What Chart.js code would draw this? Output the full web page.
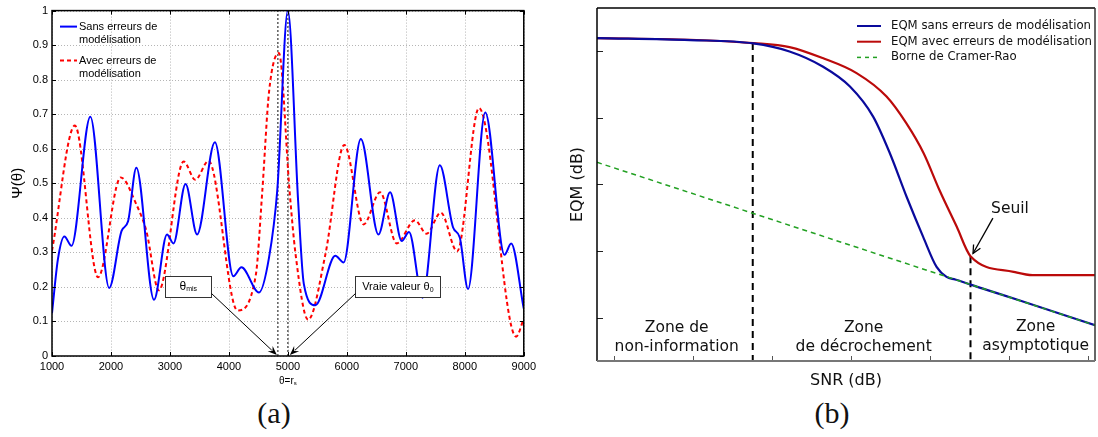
<!DOCTYPE html>
<html>
<head>
<meta charset="utf-8">
<script src="https://cdn.jsdelivr.net/npm/chart.js@4.4.0/dist/chart.umd.min.js"></script>
<style>
  html, body { margin: 0; padding: 0; background: #fff; }
  #fig { position: relative; width: 1098px; height: 437px; overflow: hidden; }
  .panel { position: absolute; top: 0; height: 395px; }
  #pa { left: 0; width: 540px; }
  #pb { left: 560px; width: 538px; }
  .cap { position: absolute; top: 397px; width: 80px; text-align: center; line-height: 32px;
         font-family: "Liberation Serif", "DejaVu Serif", serif; font-size: 30px; color: #111; }
</style>
</head>
<body>
<div id="fig">
  <div class="panel" id="pa"><canvas id="chartA"></canvas></div>
  <div class="panel" id="pb"><canvas id="chartB"></canvas></div>
  <div class="cap" style="left:234px">(a)</div>
  <div class="cap" style="left:792px">(b)</div>
</div>
<script>
// --- (a) Pseudo-spectre Ψ(θ) ---
const thetaTicks = [1000, 2000, 3000, 4000, 5000, 6000, 7000, 8000, 9000];
const psiTicks = [0, 0.1, 0.2, 0.3, 0.4, 0.5, 0.6, 0.7, 0.8, 0.9, 1];

// Sans erreurs de modélisation (bleu)
const blueTheta = [1000, 1100, 1210, 1330, 1650, 1970, 2180, 2290, 2430, 2730, 2950, 3060, 3265, 3460, 3762,
  4075, 4212, 4510, 4680, 4820, 5000, 5174, 5270, 5467, 5805, 5945, 6237, 6536, 6733, 6930, 7054, 7284,
  7577, 7802, 7915, 8055, 8347, 8674, 8786, 9000];
const blueVal = [0.124, 0.28, 0.346, 0.319, 0.693, 0.197, 0.362, 0.39, 0.545, 0.163, 0.352, 0.326, 0.498, 0.352, 0.619,
  0.231, 0.257, 0.184, 0.285, 0.48, 1.0, 0.448, 0.209, 0.147, 0.29, 0.271, 0.628, 0.352, 0.474, 0.333, 0.359, 0.169,
  0.552, 0.372, 0.343, 0.194, 0.705, 0.293, 0.326, 0.137];

// Avec erreurs de modélisation (rouge, pointillé)
const redTheta = [1000, 1388, 1781, 2165, 2430, 2600, 2812, 3233, 3430, 3655, 4145, 4455, 4566, 4680, 4848,
  5029, 5130, 5343, 5637, 5957, 6283, 6564, 6845, 7155, 7351, 7594, 7870, 8241, 8870, 9000];
const redVal = [0.305, 0.667, 0.228, 0.517, 0.439, 0.362, 0.19, 0.563, 0.51, 0.565, 0.132, 0.233, 0.477, 0.764, 0.877,
  0.477, 0.295, 0.105, 0.295, 0.611, 0.381, 0.474, 0.326, 0.393, 0.354, 0.415, 0.303, 0.718, 0.056, 0.108];

const thetaMis = 4830;
const theta0 = 5000;

// --- (b) EQM en fonction du SNR ---
const snrTicks = [-15, -10, -5, 0, 5, 10, 15];
const eqmTicks = [0, -10, -20, -30, -40];
const snrMin = -16.1, snrMax = 15.46;
const eqmMin = -46.45, eqmMax = 6.4;

const snrBlue = [-16.1, -10.2, -6.2, -3.9, -1.8, -0.07, 1.4, 2.46, 3.52, 4.57, 5.42, 6.05, 6.6, 8.5, 10.7, 15.46];
const eqmBlue = [1.9, 1.6, 1.1, -0.11, -2.36, -5.36, -9.86, -15.35, -21.86, -27.86, -32.36, -33.86, -34.25, -35.72, -37.4, -41.1];

const snrRed = [-16.1, -10.2, -6.2, -3.9, -1.8, 0.35, 2.25, 3.5, 4.6, 5.6, 6.7, 7.57, 10.3, 11.5, 15.46];
const eqmRed = [1.9, 1.65, 1.15, 0.55, -1.1, -3.35, -6.86, -10.85, -15.35, -20.85, -26.36, -30.75, -33.1, -33.6, -33.6];

const snrCrb = [-16.1, 15.46];
const eqmCrb = [-16.7, -41.1];

const snrNonInfo = -6.23, eqmNonInfo = 1.15;   // début du décrochement
const snrSeuil = 7.57, eqmSeuil = -30.75;      // seuil

const zip = (xs, ys) => xs.map((x, i) => ({ x: x, y: ys[i] }));

const SANS = '"Liberation Sans", Arial, sans-serif';
const DEJA = '"DejaVu Sans", sans-serif';

function line(ctx, x1, y1, x2, y2) {
  ctx.beginPath(); ctx.moveTo(x1, y1); ctx.lineTo(x2, y2); ctx.stroke();
}

// texte avec indices : parts = [[texte, taille, décalage vertical]]
function drawRich(ctx, parts, x, y, align, family) {
  let w = 0;
  parts.forEach(p => { ctx.font = p[1] + 'px ' + family; w += ctx.measureText(p[0]).width; });
  let cx = align === 'center' ? x - w / 2 : x;
  parts.forEach(p => {
    ctx.font = p[1] + 'px ' + family;
    ctx.fillText(p[0], cx, y + p[2]);
    cx += ctx.measureText(p[0]).width;
  });
}

function arrowFilled(ctx, x1, y1, x2, y2, head) {
  const a = Math.atan2(y2 - y1, x2 - x1);
  line(ctx, x1, y1, x2 - Math.cos(a) * head * 0.7, y2 - Math.sin(a) * head * 0.7);
  ctx.beginPath();
  ctx.moveTo(x2, y2);
  ctx.lineTo(x2 - head * Math.cos(a - 0.38), y2 - head * Math.sin(a - 0.38));
  ctx.lineTo(x2 - head * 0.6 * Math.cos(a), y2 - head * 0.6 * Math.sin(a));
  ctx.lineTo(x2 - head * Math.cos(a + 0.38), y2 - head * Math.sin(a + 0.38));
  ctx.closePath();
  ctx.fill();
}

function arrowOpen(ctx, x1, y1, x2, y2, head) {
  const a = Math.atan2(y2 - y1, x2 - x1);
  line(ctx, x1, y1, x2, y2);
  ctx.beginPath();
  ctx.moveTo(x2 - head * Math.cos(a - 0.45), y2 - head * Math.sin(a - 0.45));
  ctx.lineTo(x2, y2);
  ctx.lineTo(x2 - head * Math.cos(a + 0.45), y2 - head * Math.sin(a + 0.45));
  ctx.stroke();
}

// --- Plugin style MATLAB pour (a) ---
const matlabA = {
  id: 'matlabA',
  beforeDatasetsDraw(chart) {
    const { ctx, chartArea: a, scales: { x, y } } = chart;
    ctx.save();
    ctx.strokeStyle = '#b5b5b5';
    ctx.lineWidth = 1;
    ctx.setLineDash([1, 2]);
    thetaTicks.forEach(v => {
      const px = Math.round(x.getPixelForValue(v)) + 0.5;
      line(ctx, px, a.top, px, a.bottom);
    });
    psiTicks.forEach(v => {
      const py = Math.round(y.getPixelForValue(v)) + 0.5;
      line(ctx, a.left, py, a.right, py);
    });
    ctx.restore();
  },
  afterDatasetsDraw(chart) {
    const { ctx, chartArea: a, scales: { x, y } } = chart;
    ctx.save();
    // cadre + graduations intérieures
    ctx.strokeStyle = '#000';
    ctx.lineWidth = 1;
    thetaTicks.forEach(v => {
      const px = Math.round(x.getPixelForValue(v)) + 0.5;
      line(ctx, px, a.bottom, px, a.bottom - 4);
      line(ctx, px, a.top, px, a.top + 4);
    });
    psiTicks.forEach(v => {
      const py = Math.round(y.getPixelForValue(v)) + 0.5;
      line(ctx, a.left, py, a.left + 4, py);
      line(ctx, a.right, py, a.right - 4, py);
    });
    ctx.lineWidth = 1.5;
    ctx.strokeRect(a.left, a.top, a.right - a.left, a.bottom - a.top);

    // légende
    ctx.lineWidth = 2;
    ctx.strokeStyle = '#0000ff';
    line(ctx, a.left + 8, a.top + 16, a.left + 25, a.top + 16);
    ctx.strokeStyle = '#ff0000';
    ctx.setLineDash([4, 3]);
    line(ctx, a.left + 8, a.top + 50, a.left + 25, a.top + 50);
    ctx.setLineDash([]);
    ctx.fillStyle = '#000';
    ctx.font = '11px ' + SANS;
    ctx.textBaseline = 'middle';
    ctx.textAlign = 'left';
    ctx.fillText('Sans erreurs de', a.left + 27, a.top + 16);
    ctx.fillText('modélisation', a.left + 27, a.top + 29);
    ctx.fillText('Avec erreurs de', a.left + 27, a.top + 50);
    ctx.fillText('modélisation', a.left + 27, a.top + 63);

    // boîtes d'annotation
    const boxes = [
      { cx: 3312, cy: 0.202, w: 46, h: 21, parts: [['θ', 12, 0], ['mis', 7, 3]], from: 'right', tip: thetaMis },
      { cx: 6865, cy: 0.2, w: 85, h: 21, parts: [['Vraie valeur θ', 11, 0], ['0', 7, 3]], from: 'left', tip: theta0 }
    ];
    boxes.forEach(b => {
      const px = x.getPixelForValue(b.cx), py = y.getPixelForValue(b.cy);
      const bx = Math.round(px - b.w / 2) + 0.5, by = Math.round(py - b.h / 2) + 0.5;
      ctx.fillStyle = '#fff';
      ctx.fillRect(bx, by, b.w, b.h);
      ctx.strokeStyle = '#333';
      ctx.lineWidth = 1;
      ctx.strokeRect(bx, by, b.w, b.h);
      ctx.fillStyle = '#000';
      drawRich(ctx, b.parts, px, py, 'center', SANS);
      const sx = b.from === 'right' ? bx + b.w : bx;
      const sy = by + b.h - 4;
      ctx.strokeStyle = '#000';
      arrowFilled(ctx, sx, sy, x.getPixelForValue(b.tip) + (b.from === 'right' ? -1 : 2), y.getPixelForValue(0) - 1, 10);
    });

    // θ = r_s sous l'axe
    ctx.fillStyle = '#000';
    drawRich(ctx, [['θ=r', 10, 0], ['s', 6, 2]], x.getPixelForValue(theta0), a.bottom + 25, 'center', SANS);
    ctx.restore();
  }
};

new Chart(document.getElementById('chartA'), {
  type: 'line',
  data: {
    datasets: [
      { label: 'Sans erreurs de modélisation', data: zip(blueTheta, blueVal), borderColor: '#0000ff',
        borderWidth: 2, pointRadius: 0, cubicInterpolationMode: 'monotone', fill: false, order: 0 },
      { label: 'Avec erreurs de modélisation', data: zip(redTheta, redVal), borderColor: '#ff0000',
        borderWidth: 2, borderDash: [4, 3], pointRadius: 0, cubicInterpolationMode: 'monotone', fill: false, order: 1 },
      { label: 'theta_mis', data: [{ x: thetaMis, y: 0 }, { x: thetaMis, y: 1 }], borderColor: '#444',
        borderWidth: 1.3, borderDash: [2, 2], pointRadius: 0, order: 2 },
      { label: 'theta_0', data: [{ x: theta0, y: 0 }, { x: theta0, y: 1 }], borderColor: '#444',
        borderWidth: 1.3, borderDash: [2, 2], pointRadius: 0, order: 2 }
    ]
  },
  options: {
    animation: false,
    responsive: true,
    maintainAspectRatio: false,
    layout: { padding: { top: 8, right: 14, left: 0, bottom: 0 } },
    plugins: { legend: { display: false }, tooltip: { enabled: false } },
    scales: {
      x: {
        type: 'linear', min: 1000, max: 9000,
        ticks: { stepSize: 1000, color: '#000', font: { family: SANS, size: 11 }, padding: 4, maxRotation: 0,
                 callback: v => String(v) },
        grid: { display: false, drawTicks: false },
        border: { display: false },
        afterFit: s => { s.height = 39; }
      },
      y: {
        type: 'linear', min: 0, max: 1,
        ticks: { stepSize: 0.1, color: '#000', font: { family: SANS, size: 11 }, padding: 4,
                 callback: v => String(+v.toFixed(1)) },
        grid: { display: false, drawTicks: false },
        border: { display: false },
        title: { display: true, text: 'Ψ(θ)', color: '#000', font: { family: SANS, size: 15 },
                 padding: { top: 9, bottom: 0 } },
        afterFit: s => { s.width = 52; }
      }
    }
  },
  plugins: [matlabA]
});

// --- Plugin pour (b) : cadre, légende et zones ---
const decorB = {
  id: 'decorB',
  afterDatasetsDraw(chart) {
    const { ctx, chartArea: a, scales: { x, y } } = chart;
    ctx.save();
    // graduations intérieures
    ctx.lineWidth = 1;
    ctx.strokeStyle = '#222';
    eqmTicks.forEach(v => {
      const py = Math.round(y.getPixelForValue(v)) + 0.5;
      line(ctx, a.left, py, a.left + 6, py);
    });
    ctx.strokeStyle = '#555';
    snrTicks.forEach(v => {
      const px = Math.round(x.getPixelForValue(v)) + 0.5;
      line(ctx, px, a.bottom, px, a.bottom - 5);
    });
    // cadre
    ctx.lineWidth = 1.5;
    ctx.strokeStyle = '#000';
    line(ctx, a.left, a.top, a.right, a.top);
    line(ctx, a.left, a.top, a.left, a.bottom);
    ctx.strokeStyle = '#333';
    line(ctx, a.right, a.top, a.right, a.bottom);
    ctx.lineWidth = 2;
    ctx.strokeStyle = '#777';
    line(ctx, a.left, a.bottom, a.right, a.bottom);

    // légende
    const lx = a.right - 238, tx = a.right - 204;
    const rows = [
      ['EQM sans erreurs de modélisation', '#0a0a9c', []],
      ['EQM avec erreurs de modélisation', '#bb0a0a', []],
      ['Borne de Cramer-Rao', '#22a022', [4, 4]]
    ];
    ctx.textBaseline = 'middle';
    ctx.textAlign = 'left';
    ctx.font = '11.7px ' + DEJA;
    rows.forEach((r, i) => {
      const py = a.top + 18 + i * 15.7;
      ctx.strokeStyle = r[1];
      ctx.lineWidth = r[2].length ? 1.5 : 2;
      ctx.setLineDash(r[2]);
      line(ctx, lx, py, lx + 24, py);
      ctx.setLineDash([]);
      ctx.fillStyle = '#111';
      ctx.fillText(r[0], tx, py);
    });

    // textes des zones
    const zones = [
      { x: -11.05, y: [-41.5, -44.4], t: ['Zone de', 'non-information'] },
      { x: 0.8, y: [-41.5, -44.4], t: ['Zone', 'de décrochement'] },
      { x: 11.7, y: [-41.3, -44.2], t: ['Zone', 'asymptotique'] }
    ];
    ctx.font = '15.5px ' + DEJA;
    ctx.textAlign = 'center';
    ctx.fillStyle = '#111';
    zones.forEach(z => {
      z.t.forEach((s, i) => ctx.fillText(s, x.getPixelForValue(z.x), y.getPixelForValue(z.y[i])));
    });

    // seuil
    ctx.fillText('Seuil', x.getPixelForValue(10.07), y.getPixelForValue(-23.7));
    ctx.strokeStyle = '#000';
    ctx.lineWidth = 1.3;
    arrowOpen(ctx, x.getPixelForValue(8.99), y.getPixelForValue(-25.05),
              x.getPixelForValue(7.73), y.getPixelForValue(-30.35), 9);
    ctx.restore();
  }
};

new Chart(document.getElementById('chartB'), {
  type: 'line',
  data: {
    datasets: [
      { label: 'Borne de Cramer-Rao', data: zip(snrCrb, eqmCrb), borderColor: '#22a022', borderWidth: 1.5,
        borderDash: [5, 4], pointRadius: 0, fill: false, order: 0 },
      { label: 'EQM sans erreurs de modélisation', data: zip(snrBlue, eqmBlue), borderColor: '#0a0a9c',
        borderWidth: 2.2, pointRadius: 0, cubicInterpolationMode: 'monotone', fill: false, order: 1 },
      { label: 'EQM avec erreurs de modélisation', data: zip(snrRed, eqmRed), borderColor: '#bb0a0a',
        borderWidth: 2.2, pointRadius: 0, cubicInterpolationMode: 'monotone', fill: false, order: 2 },
      { label: 'limite 1', data: [{ x: snrNonInfo, y: eqmNonInfo }, { x: snrNonInfo, y: eqmMin }],
        borderColor: '#000', borderWidth: 2, borderDash: [7, 5], pointRadius: 0, order: 3 },
      { label: 'limite 2', data: [{ x: snrSeuil, y: eqmSeuil }, { x: snrSeuil, y: eqmMin }],
        borderColor: '#000', borderWidth: 2, borderDash: [7, 5], pointRadius: 0, order: 3 }
    ]
  },
  options: {
    animation: false,
    responsive: true,
    maintainAspectRatio: false,
    layout: { padding: { top: 8, right: 3, left: 0, bottom: 0 } },
    plugins: { legend: { display: false }, tooltip: { enabled: false } },
    scales: {
      x: {
        type: 'linear', min: snrMin, max: snrMax,
        ticks: { display: false },
        grid: { display: false, drawTicks: false },
        border: { display: false },
        title: { display: true, text: 'SNR (dB)', color: '#111', font: { family: DEJA, size: 16 },
                 padding: { top: 0, bottom: 5 } },
        afterFit: s => { s.height = 34; }
      },
      y: {
        type: 'linear', min: eqmMin, max: eqmMax,
        ticks: { display: false },
        grid: { display: false, drawTicks: false },
        border: { display: false },
        title: { display: true, text: 'EQM (dB)', color: '#111', font: { family: DEJA, size: 16 },
                 padding: { top: 8, bottom: 0 } },
        afterFit: s => { s.width = 37; }
      }
    }
  },
  plugins: [decorB]
});
</script>
</body>
</html>
